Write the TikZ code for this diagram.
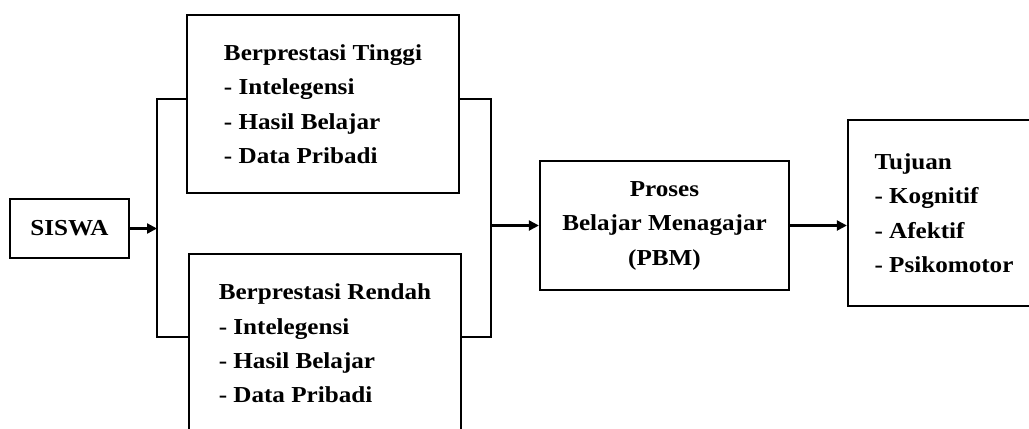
\documentclass[tikz,border=0pt]{standalone}
\usepackage{fontspec}
\setmainfont{Liberation Serif}[FakeStretch=1.1]
\usepackage{tikz}
\usetikzlibrary{calc,positioning,arrows.meta}
\tikzset{
  box/.style={rectangle,draw=black,line width=1.3pt,inner sep=0pt,font=\fontsize{13}{19.6}\selectfont\bfseries},
  % the list boxes keep their lines flush left
  lbox/.style={box,align=left},
  wire/.style={line width=1.3pt,black},
  arr/.style={-{Triangle[length=2mm,width=2mm]},line width=1.3pt,black},
}
\begin{document}
\begin{tikzpicture}
  \useasboundingbox (0,0) rectangle (20.58,-8.56);
  \clip (0,0) rectangle (20.58,-8.56);
  % ---- the pupils and the two groups ----
  \node[box,minimum width=2.38cm,minimum height=1.18cm] (siswa) at (1.39,-4.57) {SISWA};
  \node[lbox,minimum width=5.44cm,minimum height=3.56cm] (tinggi) at (6.46,-2.08)
    {Berprestasi Tinggi\\- Intelegensi\\- Hasil Belajar\\- Data Pribadi};
  \node[lbox,minimum width=5.44cm,minimum height=3.58cm] (rendah) at (6.50,-6.87)
    {Berprestasi Rendah\\- Intelegensi\\- Hasil Belajar\\- Data Pribadi};
  % ---- process and goals ----
  \node[box,align=center,minimum width=4.98cm,minimum height=2.58cm] (pbm) at (13.29,-4.51)
    {Proses\\Belajar Menagajar\\(PBM)};
  \node[lbox,minimum width=3.84cm,minimum height=3.72cm] (tujuan) at (18.88,-4.26)
    {Tujuan\\- Kognitif\\- Afektif\\- Psikomotor};
  % ---- brackets round the two groups ----
  \coordinate (split) at (3.14,-4.57);
  \coordinate (merge) at (9.82,-4.51);
  \draw[wire] ([yshift=0.1cm]tinggi.west) -| (split) |- ([yshift=0.13cm]rendah.west);
  \draw[wire] ([yshift=0.1cm]tinggi.east) -| (merge) |- ([yshift=0.13cm]rendah.east);
  \draw[arr] (siswa.east) -- (split);
  \draw[arr] (merge) -- (pbm.west);
  \draw[arr] (pbm.east) -- (pbm.east -| tujuan.west);
\end{tikzpicture}
\end{document}
